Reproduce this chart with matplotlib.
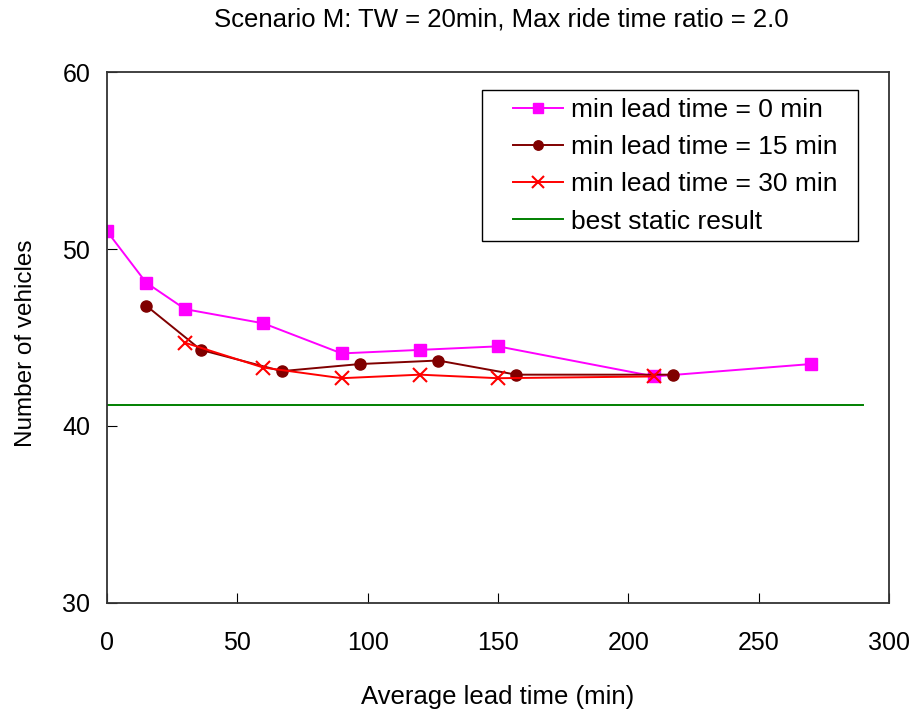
import matplotlib.pyplot as plt
from matplotlib.patches import Rectangle

# average lead time (min) vs number of vehicles
lead0_x = [0, 15, 30, 60, 90, 120, 150, 210, 270]
lead0_y = [51.0, 48.1, 46.6, 45.8, 44.1, 44.3, 44.5, 42.8, 43.5]

lead15_x = [15, 36, 67, 97, 127, 157, 217]
lead15_y = [46.8, 44.3, 43.1, 43.5, 43.7, 42.9, 42.9]

lead30_x = [30, 60, 90, 120, 150, 210]
lead30_y = [44.7, 43.3, 42.7, 42.9, 42.7, 42.8]

static_x = [0, 290]
static_y = [41.2, 41.2]

plt.rcParams['font.family'] = ['Liberation Sans', 'DejaVu Sans']

fig = plt.figure(figsize=(9.18, 7.13), dpi=100)
ax = fig.add_axes([0.1166, 0.1543, 0.8518, 0.7447])

ax.plot(lead0_x, lead0_y, color='#ff00ff', marker='s', markersize=8, lw=1.4,
        label='min lead time = 0 min')
ax.plot(lead15_x, lead15_y, color='#800000', marker='o', markersize=8, lw=1.4,
        label='min lead time = 15 min')
ax.plot(lead30_x, lead30_y, color='#ff0000', marker='x', markersize=10, mew=1.5, lw=1.4,
        label='min lead time = 30 min')
ax.plot(static_x, static_y, color='#008000', lw=1.4, label='best static result')

ax.set_xlim(0, 300)
ax.set_ylim(30, 60)
ax.set_xticks(range(0, 301, 50))
ax.set_yticks([30, 40, 50, 60])
ax.tick_params(direction='in', length=7, labelsize=18)
ax.tick_params(axis='y', pad=12)
ax.tick_params(axis='x', pad=20)

ax.set_xlabel('Average lead time (min)', fontsize=18.5, labelpad=22)
ax.set_ylabel('Number of vehicles', fontsize=17.5)
ax.yaxis.set_label_coords(-0.09, 0.49)
fig.text(0.546, 0.972, 'Scenario M: TW = 20min, Max ride time ratio = 2.0',
         ha='center', va='center', fontsize=18.5)

for s in ax.spines.values():
    s.set_color('#333333')
    s.set_linewidth(1.3)

# legend entries without their own frame, boxed by a separate rectangle
leg = ax.legend(loc='upper left', bbox_to_anchor=(0.519, 0.951), fontsize=19,
                frameon=False, markerscale=0.85,
                handlelength=1.9, handletextpad=0.3, borderpad=0,
                labelspacing=0.5, borderaxespad=0)
ax.add_patch(Rectangle((0.4795, 0.6817), 0.4805, 0.2843, transform=ax.transAxes,
                       fill=False, edgecolor='black', lw=1.0, zorder=5))

fig.savefig('out.png', dpi=100)
